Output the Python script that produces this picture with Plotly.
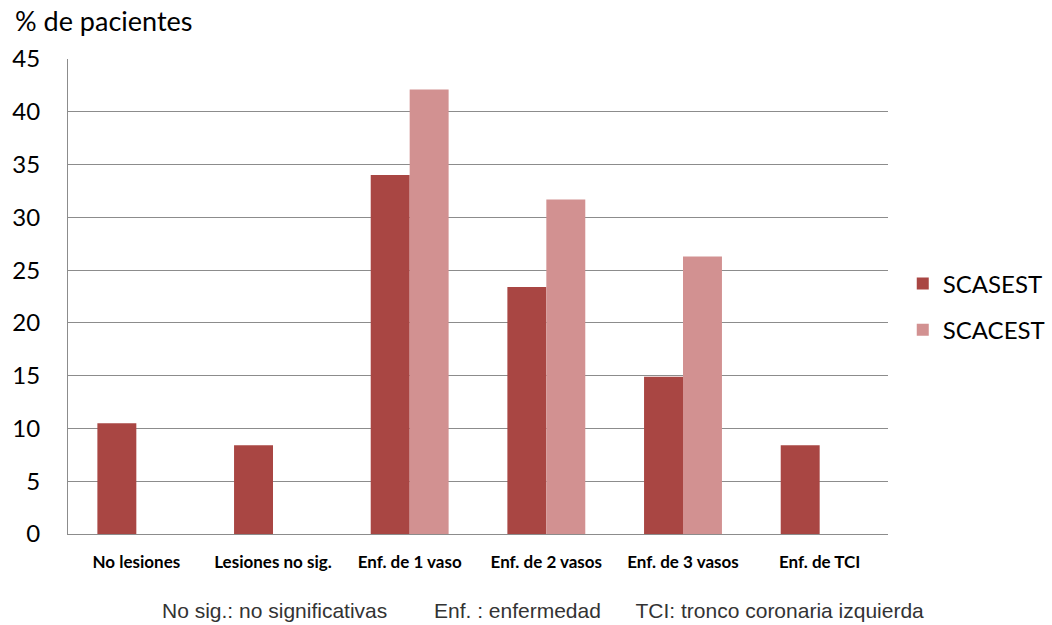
import plotly.graph_objects as go

# Categorías y porcentajes de pacientes por grupo
categorias = ["No lesiones", "Lesiones no sig.", "Enf. de 1 vaso",
              "Enf. de 2 vasos", "Enf. de 3 vasos", "Enf. de TCI"]
scasest = [10.5, 8.4, 34.0, 23.4, 14.9, 8.4]
scacest = [None, None, 42.1, 31.7, 26.3, None]
y_ticks = [0, 5, 10, 15, 20, 25, 30, 35, 40, 45]

COLOR_SCASEST = "#A94643"
COLOR_SCACEST = "#D29191"
GRID = "#8C8C8C"

fig = go.Figure()
fig.add_trace(go.Bar(name="SCASEST", x=categorias, y=scasest,
                     legendgroup="g1",
                     marker=dict(color=COLOR_SCASEST, line=dict(width=0))))
fig.add_trace(go.Bar(name="SCACEST", x=categorias, y=scacest,
                     legendgroup="g2",
                     marker=dict(color=COLOR_SCACEST, line=dict(width=0))))

nota = ("No sig.: no significativas" + " " * 8 + "Enf. : enfermedad"
        + " " * 6 + "TCI: tronco coronaria izquierda")

fig.update_layout(
    width=1052, height=625,
    margin=dict(l=68, r=164, t=59, b=91, autoexpand=False),
    paper_bgcolor="white", plot_bgcolor="white",
    barmode="group", bargap=0.43, bargroupgap=0,
    font=dict(family="Lato, Carlito, Calibri, sans-serif", color="black"),
    legend=dict(x=1.018, y=0.478, xanchor="left", yanchor="middle",
                font=dict(size=24, color="black"), traceorder="grouped",
                tracegroupgap=12, bgcolor="rgba(0,0,0,0)"),
    xaxis=dict(showgrid=False, showline=True, linecolor=GRID, linewidth=1,
               ticks="", tickfont=dict(size=17, weight="bold"),
               ticklabelstandoff=13),
    yaxis=dict(range=[0, 45], tickvals=y_ticks, showgrid=True,
               gridcolor=GRID, gridwidth=1, showline=True, linecolor=GRID,
               linewidth=1, ticks="", tickfont=dict(size=24),
               ticklabelstandoff=22, zeroline=False),
    annotations=[
        dict(text="% de pacientes", xref="paper", yref="paper",
             x=-0.067, y=1.0, xanchor="left", yanchor="bottom", yshift=20,
             showarrow=False, font=dict(size=27)),
        dict(text=nota, xref="paper", yref="paper", x=0.579, y=0,
             yshift=-76, xanchor="center", yanchor="middle",
             showarrow=False,
             font=dict(family="Liberation Sans, Arial, sans-serif", size=21,
                       color="#333333")),
    ],
)

fig.write_html("out.html")
